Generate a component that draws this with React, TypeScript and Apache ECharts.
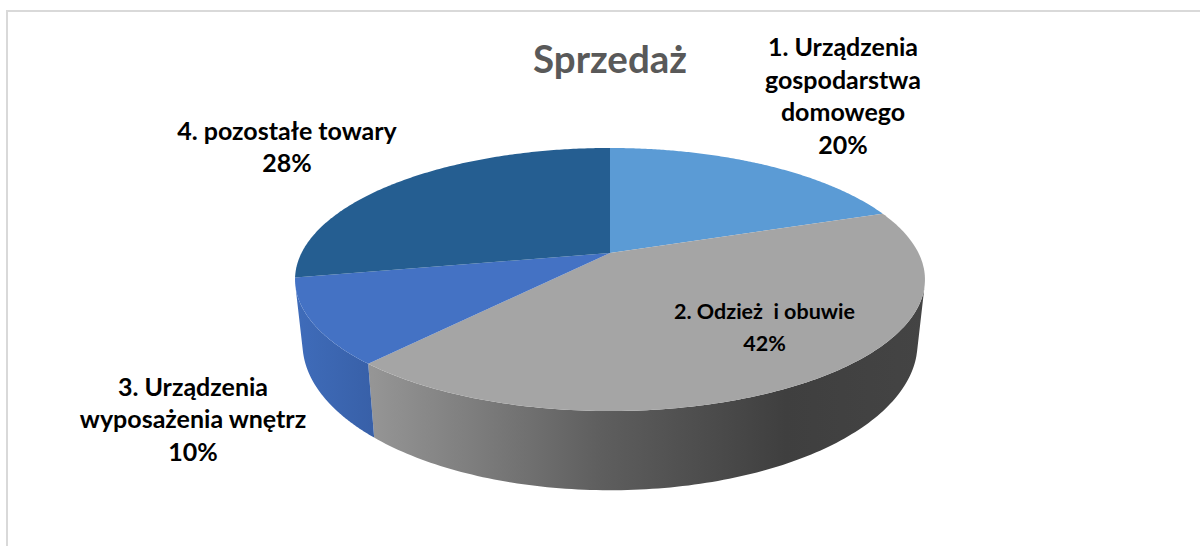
import React, { useEffect, useRef } from "react";
import * as echarts from "echarts";

const titleText = "Sprzedaż";
const categories = [
  "1. Urządzenia\ngospodarstwa\ndomowego",
  "2. Odzież  i obuwie",
  "3. Urządzenia\nwyposażenia wnętrz",
  "4. pozostałe towary",
];
const values = [19.6, 42.0, 10.4, 28.0];
const percentLabels = ["20%", "42%", "10%", "28%"];

const topColors = ["#5b9bd5", "#a5a5a5", "#4472c4", "#255e91"];
const labelCenters = [
  [843, 95],
  [764.5, 327],
  [193, 418],
  [287, 146],
];
const labelFontSizes = [25, 21.5, 25, 25];

// Projective model of the tilted disc: top face and base.
const apexX = 610;
const topFace = { y0: 253, a: 308.5, b: 126.2, k: 0.2015 };
const baseFace = { y0: 314, a: 301.3, b: 141, k: 0.2 };

type Face = typeof topFace;
const project = (f: Face, theta: number): number[] => {
  const x = Math.sin(theta);
  const y = -Math.cos(theta);
  const d = 1 - f.k * y;
  return [apexX + (f.a * x) / d, f.y0 + (f.b * y) / d];
};

const total = values.reduce((s, v) => s + v, 0);
const sliceAngles = (i: number) => {
  const before = values.slice(0, i).reduce((s, v) => s + v, 0);
  return [(before / total) * Math.PI * 2, ((before + values[i]) / total) * Math.PI * 2];
};
const STEPS = 160;
const sample = (from: number, to: number) => {
  const out: number[] = [];
  for (let s = 0; s <= STEPS; s++) out.push(from + ((to - from) * s) / STEPS);
  return out;
};
const facesViewer = (theta: number) => {
  const e = 1e-3;
  const t0 = project(topFace, theta - e);
  const t1 = project(topFace, theta + e);
  const t = project(topFace, theta);
  const b = project(baseFace, theta);
  const cross = (t1[0] - t0[0]) * (b[1] - t[1]) - (t1[1] - t0[1]) * (b[0] - t[0]);
  return cross < 0;
};

const sideFills = [
  "#4a86bd",
  new echarts.graphic.LinearGradient(
    368, 0, 925, 0,
    [
      { offset: 0, color: "#969696" },
      { offset: 0.2, color: "#7c7c7c" },
      { offset: 0.42, color: "#5e5e5e" },
      { offset: 0.75, color: "#3f3f3f" },
      { offset: 1, color: "#444444" },
    ],
    true
  ),
  new echarts.graphic.LinearGradient(
    296, 0, 373, 0,
    [
      { offset: 0, color: "#3f6cba" },
      { offset: 1, color: "#3860a8" },
    ],
    true
  ),
  "#1f5079",
];

export default function App() {
  const ref = useRef<HTMLDivElement>(null);
  useEffect(() => {
    document.body.style.margin = "0";
    const chart = echarts.init(ref.current!, null, { renderer: "svg" });
    const data = values.map((v, i) => [i, v]);
    chart.setOption({
      animation: false,
      backgroundColor: "#ffffff",
      title: {
        text: titleText,
        left: 605,
        top: 33,
        textAlign: "center",
        textStyle: { fontFamily: "Lato", fontWeight: "bold", fontSize: 38.5, color: "#595959" },
      },
      graphic: [
        { type: "rect", silent: true, shape: { x: 6, y: 10, width: 1194, height: 2 }, style: { fill: "#d9d9d9" } },
        { type: "rect", silent: true, shape: { x: 6, y: 10, width: 2, height: 536 }, style: { fill: "#d9d9d9" } },
        ...categories.map((c, i) => ({
          type: "text",
          silent: true,
          z: 10,
          x: labelCenters[i][0],
          y: labelCenters[i][1],
          style: {
            text: c + "\n" + percentLabels[i],
            fontFamily: "Lato",
            fontWeight: "bold",
            fontSize: labelFontSizes[i],
            lineHeight: 32.5,
            fill: "#000000",
            align: "center",
            verticalAlign: "middle",
          },
        })),
      ],
      series: [
        {
          type: "custom",
          coordinateSystem: "none",
          silent: true,
          z: 1,
          data,
          renderItem: (params: any) => {
            const i = params.dataIndex;
            const [a, b] = sliceAngles(i);
            const vis = sample(a, b).filter(facesViewer);
            if (vis.length < 2) return { type: "group", children: [] };
            const points = [
              ...vis.map((t) => project(topFace, t)),
              ...vis.slice().reverse().map((t) => project(baseFace, t)),
            ];
            return { type: "polygon", shape: { points }, style: { fill: sideFills[i] } };
          },
        },
        {
          type: "custom",
          coordinateSystem: "none",
          silent: true,
          z: 2,
          data,
          renderItem: (params: any) => {
            const i = params.dataIndex;
            const [a, b] = sliceAngles(i);
            const points = [[apexX, topFace.y0], ...sample(a, b).map((t) => project(topFace, t))];
            return { type: "polygon", shape: { points }, style: { fill: topColors[i] } };
          },
        },
      ],
    });
    return () => chart.dispose();
  }, []);
  return <div ref={ref} style={{ width: 1200, height: 546 }} />;
}
